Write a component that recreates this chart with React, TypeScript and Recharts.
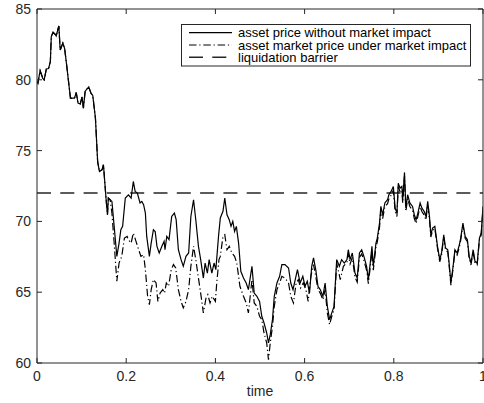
import React from 'react';
import { LineChart, Line, XAxis, YAxis, ReferenceLine, Legend } from 'recharts';

// Shared start: both price paths coincide before the impact kicks in
const earlyT = [0, 0.002, 0.007, 0.013, 0.016, 0.021, 0.026, 0.03, 0.032, 0.036, 0.041, 0.043, 0.049, 0.052, 0.058, 0.062, 0.067, 0.075, 0.084, 0.088, 0.092, 0.097, 0.101, 0.104, 0.108, 0.116, 0.121, 0.125, 0.131, 0.136, 0.14, 0.146, 0.149, 0.155, 0.158, 0.16, 0.164];
const earlyV = [79.87, 79.76, 80.65, 80.1, 79.99, 80.77, 80.8, 81.3, 83.05, 83.35, 83.2, 83.1, 83.8, 82.1, 82.6, 82.2, 80.9, 78.7, 78.7, 79.1, 78.35, 78.3, 78.8, 78.0, 79.2, 79.5, 79.05, 78.9, 77.3, 74.2, 73.53, 73.65, 74.0, 71.53, 70.47, 71.65, 71.53];

// Asset price without market impact
const priceT = [0.168, 0.173, 0.179, 0.184, 0.188, 0.192, 0.198, 0.205, 0.211, 0.216, 0.22, 0.225, 0.231, 0.235, 0.239, 0.243, 0.246, 0.252, 0.256, 0.261, 0.265, 0.269, 0.274, 0.28, 0.285, 0.287, 0.291, 0.296, 0.302, 0.308, 0.312, 0.317, 0.323, 0.328, 0.334, 0.34, 0.345, 0.351, 0.356, 0.362, 0.367, 0.373, 0.377, 0.382, 0.386, 0.392, 0.397, 0.401, 0.407, 0.411, 0.417, 0.421, 0.426, 0.431, 0.435, 0.439, 0.443, 0.447, 0.452, 0.457, 0.463, 0.469, 0.474, 0.482, 0.487, 0.493, 0.499, 0.504, 0.509, 0.515, 0.519, 0.523, 0.528, 0.532, 0.538, 0.544, 0.549, 0.556, 0.564, 0.569, 0.574, 0.579, 0.584, 0.59, 0.596, 0.601, 0.606, 0.611, 0.616, 0.62, 0.625, 0.63, 0.635, 0.641, 0.646, 0.651, 0.656, 0.661, 0.666, 0.672, 0.678, 0.683, 0.689, 0.695, 0.698, 0.702, 0.707, 0.713, 0.718, 0.723, 0.728, 0.733, 0.739, 0.743, 0.748, 0.751, 0.754, 0.76, 0.763, 0.768, 0.771, 0.775, 0.78, 0.786, 0.789, 0.794, 0.799, 0.803, 0.807, 0.81, 0.814, 0.818, 0.82, 0.824, 0.827, 0.831, 0.836, 0.842, 0.846, 0.85, 0.854, 0.859, 0.863, 0.868, 0.872, 0.876, 0.88, 0.883, 0.887, 0.892, 0.898, 0.903, 0.907, 0.912, 0.916, 0.921, 0.924, 0.928, 0.933, 0.937, 0.942, 0.947, 0.95, 0.955, 0.96, 0.965, 0.969, 0.973, 0.978, 0.982, 0.987, 0.992, 0.996, 1.0];
const priceV = [71.41, 69.65, 67.53, 68.47, 69.41, 69.65, 71.65, 71.88, 71.65, 72.82, 72.12, 72.0, 71.3, 71.41, 71.18, 70.59, 68.94, 67.53, 68.47, 69.41, 69.29, 68.24, 67.77, 68.24, 68.59, 68.0, 68.94, 68.71, 70.35, 70.59, 70.12, 68.0, 67.3, 66.83, 67.53, 67.77, 70.35, 71.53, 70.12, 68.24, 67.3, 66.0, 67.06, 66.35, 67.3, 66.35, 67.06, 66.59, 68.94, 70.24, 70.71, 71.65, 70.47, 70.12, 69.65, 70.0, 69.29, 69.65, 68.47, 66.48, 66.0, 65.65, 65.18, 66.83, 64.94, 64.71, 64.35, 63.3, 62.83, 62.12, 61.42, 62.0, 63.07, 64.71, 65.65, 66.12, 66.95, 66.95, 66.71, 65.65, 65.18, 65.89, 66.59, 65.65, 66.12, 65.42, 65.77, 64.94, 66.83, 67.42, 66.59, 65.42, 65.18, 64.71, 65.65, 64.0, 63.07, 63.54, 64.0, 67.3, 66.83, 67.3, 67.06, 67.3, 68.0, 67.3, 67.77, 66.35, 66.0, 67.77, 68.0, 67.53, 66.83, 65.89, 67.3, 68.24, 66.83, 68.47, 68.82, 69.88, 71.06, 70.47, 71.3, 71.53, 71.88, 72.12, 72.47, 70.94, 70.59, 72.7, 72.35, 72.47, 71.53, 73.46, 70.94, 71.88, 71.3, 71.06, 70.47, 70.12, 70.59, 71.3, 70.94, 70.71, 70.35, 71.41, 70.35, 69.06, 69.53, 69.65, 68.24, 67.3, 67.77, 69.06, 68.12, 68.0, 67.06, 65.65, 66.83, 68.0, 67.77, 68.35, 68.82, 69.88, 68.94, 68.71, 67.53, 67.06, 68.0, 67.18, 67.06, 68.82, 69.18, 71.06];

// Asset market price under market impact
const impactT = [0.168, 0.173, 0.179, 0.184, 0.19, 0.196, 0.202, 0.205, 0.211, 0.216, 0.222, 0.228, 0.233, 0.239, 0.243, 0.248, 0.252, 0.256, 0.261, 0.267, 0.271, 0.276, 0.282, 0.286, 0.29, 0.295, 0.301, 0.306, 0.311, 0.317, 0.323, 0.328, 0.334, 0.34, 0.345, 0.351, 0.356, 0.362, 0.368, 0.373, 0.379, 0.383, 0.388, 0.393, 0.4, 0.403, 0.408, 0.411, 0.417, 0.421, 0.426, 0.431, 0.437, 0.443, 0.448, 0.455, 0.463, 0.469, 0.474, 0.482, 0.487, 0.493, 0.499, 0.504, 0.509, 0.515, 0.519, 0.523, 0.528, 0.532, 0.538, 0.544, 0.549, 0.556, 0.564, 0.569, 0.575, 0.581, 0.586, 0.591, 0.597, 0.603, 0.608, 0.614, 0.62, 0.625, 0.63, 0.635, 0.641, 0.646, 0.651, 0.656, 0.661, 0.666, 0.672, 0.68, 0.687, 0.695, 0.698, 0.702, 0.707, 0.713, 0.718, 0.723, 0.728, 0.733, 0.739, 0.743, 0.748, 0.751, 0.754, 0.76, 0.763, 0.768, 0.771, 0.775, 0.78, 0.786, 0.789, 0.794, 0.799, 0.803, 0.807, 0.81, 0.814, 0.818, 0.82, 0.824, 0.827, 0.831, 0.836, 0.842, 0.846, 0.85, 0.854, 0.859, 0.863, 0.868, 0.872, 0.876, 0.88, 0.883, 0.887, 0.892, 0.898, 0.903, 0.907, 0.912, 0.916, 0.921, 0.924, 0.928, 0.933, 0.937, 0.942, 0.947, 0.95, 0.955, 0.96, 0.965, 0.969, 0.973, 0.978, 0.982, 0.987, 0.992, 0.996, 1.0];
const impactV = [70.59, 68.47, 65.77, 67.06, 67.53, 68.82, 68.94, 68.71, 68.47, 69.18, 68.59, 68.0, 67.53, 67.65, 66.59, 64.71, 64.12, 65.18, 65.89, 65.65, 64.35, 64.94, 65.18, 64.94, 65.65, 65.42, 66.59, 66.95, 66.71, 65.18, 64.35, 63.89, 64.35, 65.18, 66.83, 68.24, 67.3, 66.0, 64.71, 63.54, 64.59, 64.83, 64.24, 64.71, 64.35, 65.65, 67.3, 67.53, 68.94, 69.06, 68.0, 68.24, 67.77, 67.53, 67.06, 65.42, 64.71, 64.24, 63.54, 65.89, 64.24, 64.0, 63.3, 63.07, 62.12, 61.42, 60.24, 61.42, 62.59, 64.0, 65.18, 65.65, 66.12, 66.0, 65.65, 64.71, 64.24, 65.65, 65.89, 65.3, 65.65, 65.18, 64.35, 66.12, 66.95, 66.12, 65.18, 64.94, 64.47, 65.18, 63.54, 62.71, 63.3, 63.77, 67.06, 65.89, 66.83, 67.1, 67.7, 67.0, 67.45, 66.05, 65.7, 67.45, 67.7, 67.25, 66.55, 65.6, 67.0, 67.95, 66.55, 68.2, 68.55, 69.6, 70.8, 70.2, 71.05, 71.25, 71.6, 71.85, 72.2, 70.7, 70.35, 72.45, 72.1, 72.2, 71.3, 73.2, 70.7, 71.6, 71.05, 70.8, 70.2, 69.85, 70.35, 71.05, 70.7, 70.45, 70.1, 71.15, 70.15, 68.9, 69.35, 69.5, 68.1, 67.15, 67.6, 68.9, 67.97, 67.85, 66.9, 65.5, 66.7, 67.85, 67.62, 68.2, 68.67, 69.73, 68.8, 68.56, 67.4, 66.92, 67.86, 67.05, 66.93, 68.7, 69.05, 70.95];

const barrier = 72;
const xTicks = [0, 0.2, 0.4, 0.6, 0.8, 1];
const yTicks = [60, 65, 70, 75, 80, 85];
const seriesNames = [
  'asset price without market impact',
  'asset market price under market impact',
  'liquidation barrier',
];
const xLabel = 'time';

const toRows = (ts: number[], vs: number[]) => ts.map((t, i) => ({ t, v: vs[i] }));
const priceData = toRows([...earlyT, ...priceT], [...earlyV, ...priceV]);
const impactData = toRows([...earlyT, ...impactT], [...earlyV, ...impactV]);

const AXIS = '#262626';
const DASHDOT = '7.5 2.8 1.2 2.8';
const DASHED = '14 9.3';
const TICK_LEN = 5;
const BOTTOM_GAP = 8.5;
const LEFT_GAP = 6;
const FONT = 14;

const BottomTick = (props: any) => {
  const { x, y, payload } = props;
  return (
    <g>
      <line x1={x} x2={x} y1={y - BOTTOM_GAP} y2={y - BOTTOM_GAP - TICK_LEN} stroke={AXIS} strokeWidth={1} />
      <text x={x} y={y} dy="0.71em" textAnchor="middle" fill={AXIS} fontSize={FONT}>{String(payload.value)}</text>
    </g>
  );
};

const LeftTick = (props: any) => {
  const { x, y, payload } = props;
  return (
    <g>
      <line x1={x + LEFT_GAP} x2={x + LEFT_GAP + TICK_LEN} y1={y} y2={y} stroke={AXIS} strokeWidth={1} />
      <text x={x} y={y} dy="0.355em" textAnchor="end" fill={AXIS} fontSize={FONT}>{String(payload.value)}</text>
    </g>
  );
};

const TopTick = (props: any) => {
  const { x, y } = props;
  return <line x1={x} x2={x} y1={y} y2={y + TICK_LEN} stroke={AXIS} strokeWidth={1} />;
};

const RightTick = (props: any) => {
  const { x, y } = props;
  return <line x1={x} x2={x - TICK_LEN} y1={y} y2={y} stroke={AXIS} strokeWidth={1} />;
};

const renderLegend = () => {
  const rows = [
    { dash: undefined as string | undefined, w: 1.2, color: '#000' },
    { dash: DASHDOT, w: 1.2, color: '#000' },
    { dash: DASHED, w: 1.5, color: AXIS },
  ];
  return (
    <svg width={291} height={43} style={{ display: 'block' }}>
      <rect x={0.5} y={0.5} width={289} height={41.5} fill="#fff" stroke={AXIS} strokeWidth={1} />
      {rows.map((r, i) => {
        const y = 8.7 + i * 12.3;
        return (
          <g key={i}>
            <line x1={8} x2={51} y1={y} y2={y} stroke={r.color} strokeWidth={r.w} strokeDasharray={r.dash} />
            <text x={57} y={y + 4.6} fontSize={13} fill="#000">{seriesNames[i]}</text>
          </g>
        );
      })}
    </svg>
  );
};

export default function App() {
  return (
    <div style={{ position: 'absolute', left: 0, top: 0, fontFamily: '"Liberation Sans", Arial, Helvetica, sans-serif' }}>
      <LineChart width={484} height={403} margin={{ top: 8, right: 0, bottom: 0, left: 0 }}>
        <XAxis
          xAxisId="b"
          dataKey="t"
          type="number"
          domain={[0, 1]}
          allowDataOverflow
          ticks={xTicks}
          tickLine={false}
          tickSize={0}
          tickMargin={BOTTOM_GAP}
          height={40}
          stroke={AXIS}
          tick={<BottomTick />}
          interval={0}
          label={{ value: xLabel, position: 'insideBottom', offset: 7, fill: AXIS, fontSize: FONT }}
        />
        <XAxis
          xAxisId="top"
          orientation="top"
          dataKey="t"
          type="number"
          domain={[0, 1]}
          allowDataOverflow
          ticks={xTicks}
          tickLine={false}
          tickSize={0}
          tickMargin={0}
          height={1}
          stroke={AXIS}
          interval={0}
          tick={<TopTick />}
        />
        <YAxis
          yAxisId="l"
          type="number"
          domain={[60, 85]}
          allowDataOverflow
          ticks={yTicks}
          tickLine={false}
          tickSize={0}
          tickMargin={LEFT_GAP}
          width={37}
          stroke={AXIS}
          interval={0}
          tick={<LeftTick />}
        />
        <YAxis
          yAxisId="r"
          orientation="right"
          type="number"
          domain={[60, 85]}
          allowDataOverflow
          ticks={yTicks}
          tickLine={false}
          tickSize={0}
          tickMargin={0}
          width={1}
          stroke={AXIS}
          interval={0}
          tick={<RightTick />}
        />
        <ReferenceLine xAxisId="b" yAxisId="l" y={barrier} stroke={AXIS} strokeWidth={1.5} strokeDasharray={DASHED} />
        <Line
          xAxisId="b"
          yAxisId="l"
          data={impactData}
          dataKey="v"
          name={seriesNames[1]}
          stroke="#000"
          strokeWidth={1.2}
          strokeDasharray={DASHDOT}
          dot={false}
          activeDot={false}
          isAnimationActive={false}
        />
        <Line
          xAxisId="b"
          yAxisId="l"
          data={priceData}
          dataKey="v"
          name={seriesNames[0]}
          stroke="#000"
          strokeWidth={1.2}
          dot={false}
          activeDot={false}
          isAnimationActive={false}
        />
        <Legend
          layout="vertical"
          align="center"
          verticalAlign="middle"
          content={renderLegend}
          wrapperStyle={{ left: 181, top: 24, width: 291, height: 43 }}
        />
      </LineChart>
    </div>
  );
}
